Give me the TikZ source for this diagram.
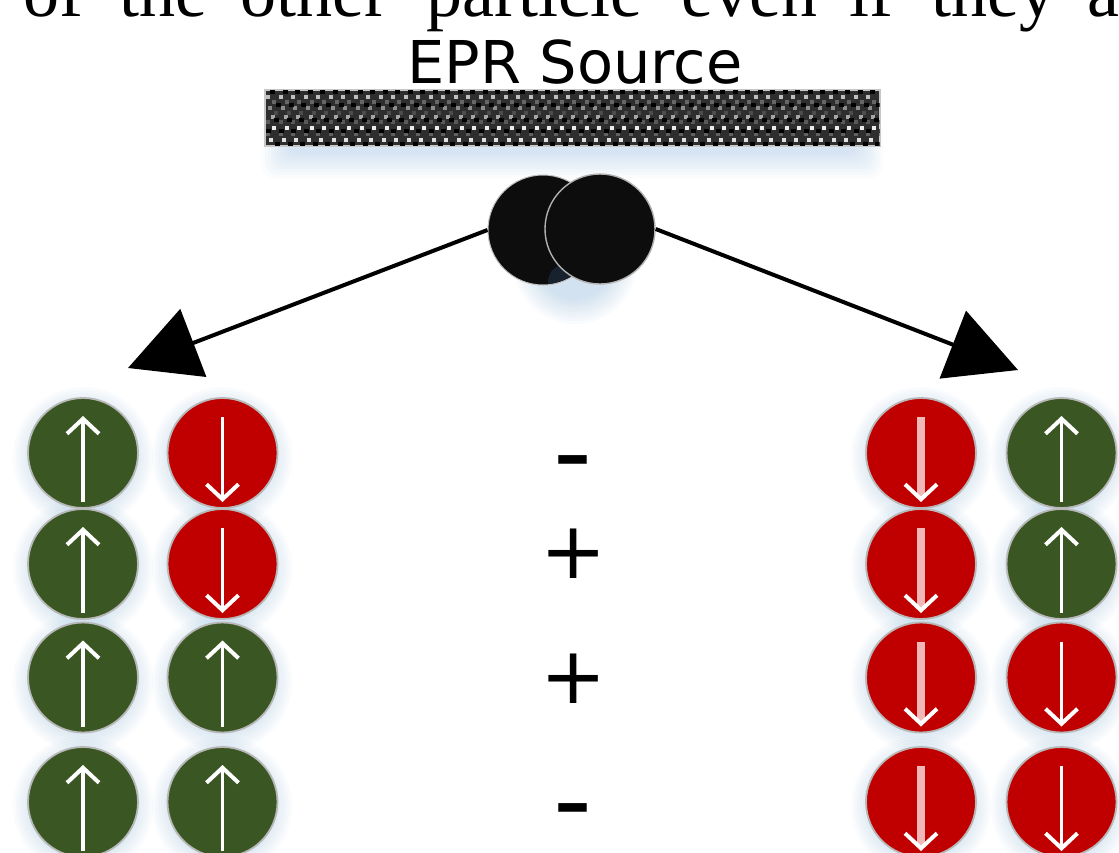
\documentclass[tikz,border=0pt]{standalone}
\usepackage{fontspec}
\setmainfont{Liberation Serif}
\newfontfamily\djv{DejaVu Sans}
\usetikzlibrary{arrows.meta}
\definecolor{spingreen}{HTML}{3A5723}
\definecolor{spinred}{HTML}{C00000}
\definecolor{halo}{HTML}{5B9BD5}
\definecolor{shaftpink}{HTML}{F2B8B8}
\definecolor{navyglow}{HTML}{18222E}
\tikzset{
  word/.style={anchor=base west,inner sep=0pt,font=\fontsize{72}{72}\selectfont},
  sign/.style={anchor=base,inner sep=0pt,font=\djv\fontsize{79}{79}\selectfont},
  dash sign/.style={anchor=base,inner sep=0pt,font=\djv\fontsize{108}{108}\selectfont},
  ball/.style={circle,draw=black!28,line width=1.8pt,minimum size=110pt,inner sep=0pt},
  upball/.style={ball,fill=spingreen},
  downball/.style={ball,fill=spinred},
  spin/.style={white,line width=3.8pt,-{Straight Barb[length=15pt,width=32pt,line width=4pt,color=white]}},
  widespin/.style={shaftpink,line width=8pt,-{Straight Barb[length=15pt,width=32pt,line width=4pt,color=white]}},
  beam/.style={black,line width=4pt,-{Triangle[length=70pt,width=72pt]}},
}
\newcommand{\softhalo}[4]{%
  \foreach \rr in {0,3,...,24}{\fill[halo,opacity=#4] (#1,#2) circle ({#3+\rr pt});}%
}
\begin{document}
\begin{tikzpicture}[x=1pt,y=-1pt]
\useasboundingbox (0,0) rectangle (1119,852);
\clip (0,0) rectangle (1119,852);
\fill[white] (0,0) rectangle (1119,852);

% cropped caption line
\node[word] (w1) at (23,16) {of};
\node[word] (w2) at (119,16) {the};
\node[word] (w3) at (240,16) {other};
\node[word] (w4) at (426,16) {particle};
\node[word] (w5) at (681,16) {even};
\node[word] (w6) at (849,16) {if};
\node[word] (w7) at (931,16) {they};
\node[word] (w8) at (1087,16) {a};

\node[anchor=base,inner sep=0pt,font=\djv\fontsize{59}{59}\selectfont] (title) at (575,83) {EPR Source};

% soft shadows
\foreach \rr in {0,3,...,24}{
  \fill[halo,opacity=.028,rounded corners=12pt] (286-\rr,120) rectangle (859+\rr,154+\rr);
}
\softhalo{575}{262}{38}{.032}
\foreach \cx in {83,222,921,1061}{
  \foreach \cy in {457,568,682,806}{ \softhalo{\cx}{\cy}{46}{.03} }
}

% source bar
\node[draw=black!22,line width=2pt,fill=black!82,minimum width=615pt,minimum height=56pt,inner sep=0pt] (bar) at (572,118) {};
\begin{scope}
\clip ([shift={(1,-1)}]bar.south west) rectangle ([shift={(-1,1)}]bar.north east);
\foreach \ry/\rc/\off in {97/black!25/0,102/black!60/6,108/black!45/2,113/black!70/8,117/black!35/5,122/black!65/0,128/black!8/6,134/black!62/0,140/black!12/3}{
  \foreach \i in {0,...,49}{
    \fill[\rc] ({266+\off+12.5*\i},\ry-2) rectangle +(4,4);
  }
}
\foreach \ry/\off in {92/4,105/10,120/8,131/0,144/9}{
  \foreach \i in {0,...,49}{
    \fill[black] ({266+\off+12.5*\i},\ry-2.5) rectangle +(5,4.5);
  }
}
\end{scope}

% entangled pair and beams
\coordinate (tipL) at (128,368);
\coordinate (tipR) at (1018,370);
\node[circle,fill=black!95,draw=black!25,line width=1pt,minimum size=110pt,inner sep=0pt] (pL) at (543,230) {};
\begin{scope}
\clip (543,230) circle (54pt);
\fill[navyglow] (566,282) circle (18pt);
\end{scope}
\node[circle,fill=black!95,draw=black!30,line width=1.4pt,minimum size=110pt,inner sep=0pt] (pR) at (600,229) {};
\draw[beam] (pL.west) -- (tipL);
\draw[beam] (pR.east) -- (tipR);

% spin balls: name / x / y
\foreach \n/\cx/\cy in {a1/83/453,a2/83/564,a3/83/677.5,a4/83/802,b3/222.5/677.5,b4/222.5/802,d1/1061.5/453,d2/1061.5/564}{
  \node[upball] (\n) at (\cx,\cy) {};
  \coordinate (\n s) at (\cx,\cy+49);
  \coordinate (\n e) at (\cx,\cy-37);
  \draw[spin] (\n s) -- (\n e);
}
\foreach \n/\cx/\cy in {b1/222.5/453,b2/222.5/564,d3/1061.5/677.5,d4/1061.5/802}{
  \node[downball] (\n) at (\cx,\cy) {};
  \coordinate (\n s) at (\cx,\cy-36);
  \coordinate (\n e) at (\cx,\cy+49);
  \draw[spin] (\n s) -- (\n e);
}
\foreach \n/\cx/\cy in {c1/921/453,c2/921/564,c3/921/677.5,c4/921/802}{
  \node[downball] (\n) at (\cx,\cy) {};
  \coordinate (\n s) at (\cx,\cy-36);
  \coordinate (\n e) at (\cx,\cy+49);
  \draw[widespin] (\n s) -- (\n e);
}

% parity signs
\node[dash sign] (s1) at (572.5,489) {-};
\node[sign] (s2) at (574,578) {+};
\node[sign] (s3) at (574,703) {+};
\node[dash sign] (s4) at (572.5,837) {-};
\end{tikzpicture}
\end{document}
